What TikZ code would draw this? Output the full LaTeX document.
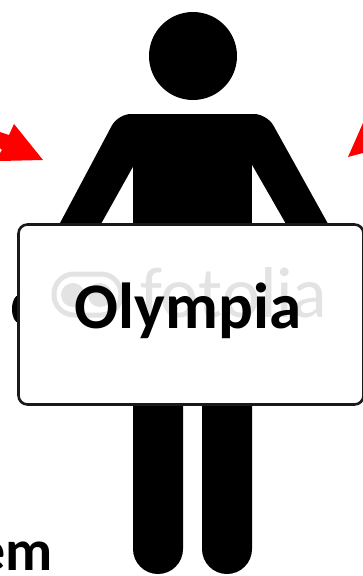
\documentclass[tikz,border=0pt]{standalone}
\usepackage{fontspec}
\setmainfont{Carlito}
\definecolor{markgray}{gray}{0.89}
\begin{document}
\begin{tikzpicture}[x=1pt, y=-1pt,
  figure/.style={fill=black, draw=none},
  pointer/.style={fill=red, draw=none},
  signboard/.style={draw=black!90, line width=2.6pt, fill=white, rounded corners=9pt, minimum width=345pt, minimum height=180pt, inner sep=0pt},
  watermark/.style={text=markgray, font=\fontsize{72}{72}\selectfont, inner sep=0pt},
  signtext/.style={font=\fontsize{65}{65}\selectfont\bfseries, inner sep=0pt}]
\useasboundingbox (0,0) rectangle (363,576);
% person
\fill[figure] (193,56) circle (44);
\fill[figure, rounded corners=13pt] (51,240) -- (118,114) -- (267,114) -- (337,240) -- cycle;
\fill[white] (100,226) -- (133,167) -- (133,226) -- cycle;
\fill[white] (252,165) -- (287,226) -- (252,226) -- cycle;
\fill[figure] (133,160) rectangle (252,230);
\fill[figure] (133,400) -- (183,400) -- (183,549) arc (0:180:25) -- cycle;
\fill[figure] (202,400) -- (252,400) -- (252,549) arc (0:180:25) -- cycle;
\fill[figure] (19,309) ellipse (7 and 14);
% sign
\node[signboard] (board) at (191,314.5) {};
\node[watermark, anchor=base west] (mark) at (140,317) {fotolia};
\draw[markgray, line width=5pt, rounded corners=20pt] (54,274) rectangle (121,315);
\fill[markgray] (73,295) circle (12);
\fill[markgray] (100,295) circle (12);
\node[signtext, anchor=base] (name) at (188,328) {Olympia};
\node[font=\fontsize{58}{58}\selectfont\bfseries, anchor=base east, inner sep=0pt] (word) at (53,570) {em};
% arrows
\fill[pointer] (0,132) -- (9,135) -- (14,124) -- (43,160) -- (0,161) -- (0,153) -- (2,150) -- (0,148) -- cycle;
\fill[pointer] (348,157) -- (363,123) -- (363,153) -- cycle;
\end{tikzpicture}
\end{document}
